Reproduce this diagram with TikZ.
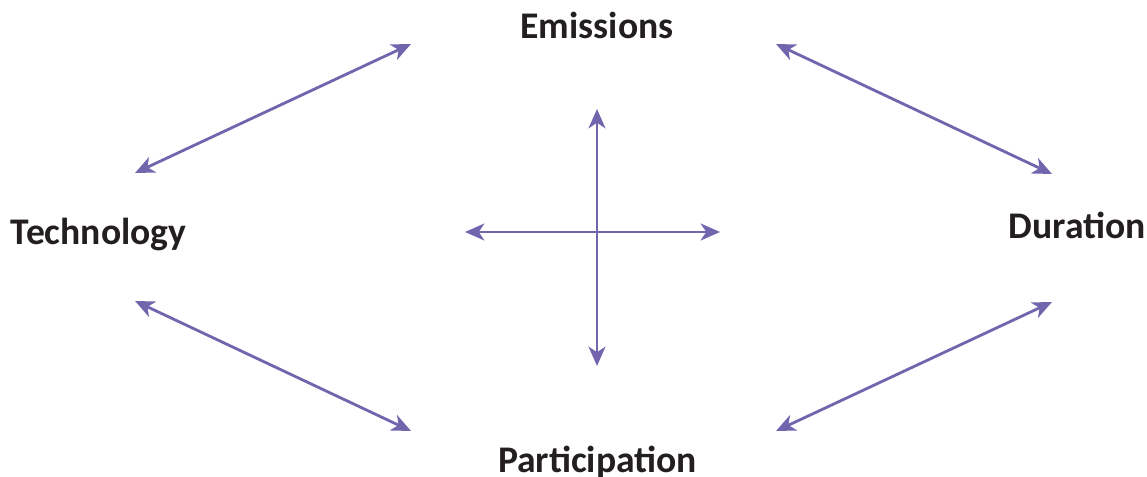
\documentclass[tikz,border=0pt]{standalone}
\usepackage{fontspec}
\setmainfont{Carlito}
\usetikzlibrary{arrows.meta}

\definecolor{linkpurple}{RGB}{114,101,174}
\definecolor{labelgray}{RGB}{35,31,32}

\tikzset{
	link/.style={{Stealth[length=5.5pt,width=4.8pt,inset=1.6pt]}-{Stealth[length=5.5pt,width=4.8pt,inset=1.6pt]}, color=linkpurple, line width=0.8pt},
	factor/.style={anchor=base, inner sep=0pt, text=labelgray, font=\fontsize{10.7}{12}\selectfont\bfseries}
}

\begin{document}
\begin{tikzpicture}
	\useasboundingbox (0,0) rectangle (11.47,4.77);
	% the four factors
	\node[factor] (emis) at (5.97,4.38) {Emissions};
	\node[factor] (tech) at (0.985,2.32) {Technology};
	\node[factor] (dur) at (10.775,2.38) {Duration};
	\node[factor] (part) at (5.975,0.04) {Participation};
	% arrow ends
	\coordinate (tl1) at (1.35,3.04); \coordinate (tl2) at (4.11,4.33);
	\coordinate (tr1) at (7.76,4.33); \coordinate (tr2) at (10.52,3.03);
	\coordinate (bl1) at (1.35,1.76); \coordinate (bl2) at (4.11,0.46);
	\coordinate (br1) at (7.76,0.46); \coordinate (br2) at (10.52,1.75);
	\coordinate (up) at (5.97,3.68); \coordinate (down) at (5.97,1.11);
	\coordinate (left) at (4.65,2.45); \coordinate (right) at (7.20,2.45);
	\draw[link] (tl1) -- (tl2);
	\draw[link] (tr1) -- (tr2);
	\draw[link] (bl1) -- (bl2);
	\draw[link] (br1) -- (br2);
	% cross in the middle
	\draw[link] (up) -- (down);
	\draw[link] (left) -- (right);
\end{tikzpicture}
\end{document}
